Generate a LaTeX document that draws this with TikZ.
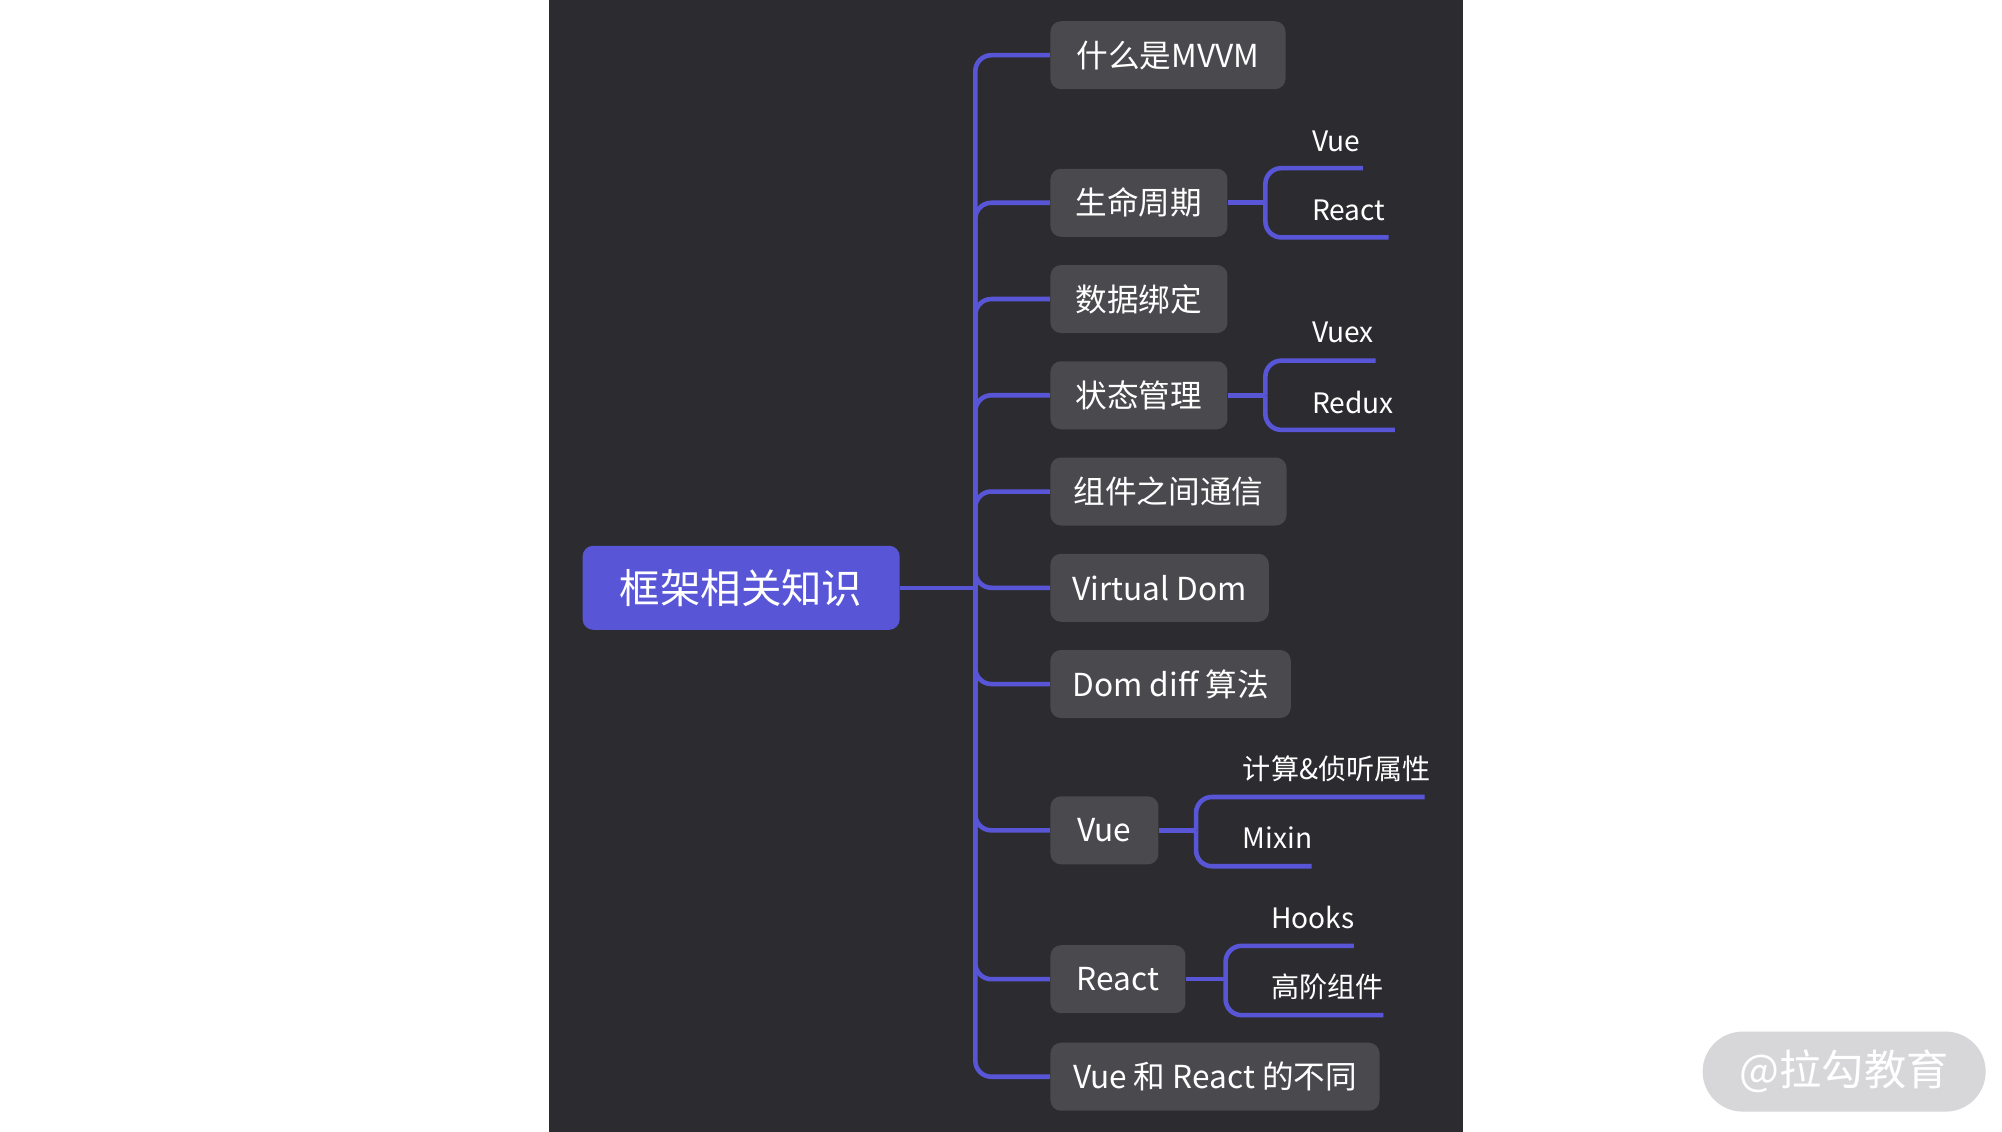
\documentclass[tikz,border=0pt]{standalone}
\usepackage{fontspec}
\setmainfont{Noto Sans CJK SC}
\usetikzlibrary{positioning}
\definecolor{panel}{RGB}{44,44,48}
\definecolor{topic}{RGB}{88,86,214}
\definecolor{boxgray}{RGB}{74,74,78}
\definecolor{mark}{RGB}{215,215,218}
\tikzset{
    root/.style={rectangle, rounded corners=3pt, minimum width=3.17cm, minimum height=0.84cm, fill=topic, text=white, font=\fontsize{11.5}{14}\selectfont},
    topicbox/.style={rectangle, rounded corners=3pt, anchor=west, minimum height=0.68cm, inner xsep=0.22cm, fill=boxgray, text=white, font=\fontsize{9}{11}\selectfont},
    leaf/.style={anchor=west, text=white, inner sep=0pt, font=\fontsize{8}{10}\selectfont},
    link/.style={draw=topic, line width=1.3pt, rounded corners=0.16cm}
}
\begin{document}
\begin{tikzpicture}[x=0.012833cm, y=-0.012833cm]
    % canvas and dark panel
    \useasboundingbox (0,0) rectangle (1560,882);
    \fill[white] (0,0) rectangle (1560,882);
    \fill[panel] (428,0) rectangle (1140,882);

    % root
    \node[root] (root) at (577.5,458) {框架相关知识};
    \coordinate (trunk) at (760,458);

    % topics
    \node[topicbox, minimum width=2.35cm] (mvvm) at (818,43) {什么是MVVM};
    \node[topicbox, minimum width=1.77cm] (life) at (818,158) {生命周期};
    \node[topicbox, minimum width=1.77cm] (bind) at (818,233) {数据绑定};
    \node[topicbox, minimum width=1.77cm] (state) at (818,308) {状态管理};
    \node[topicbox, minimum width=2.36cm] (comm) at (818,383) {组件之间通信};
    \node[topicbox, minimum width=2.12cm] (vdom) at (818,458) {Virtual Dom};
    \node[topicbox, minimum width=2.39cm] (diff) at (818,533) {Dom diff 算法};
    \node[topicbox, minimum width=1.08cm] (vue) at (818,647) {Vue};
    \node[topicbox, minimum width=1.35cm] (react) at (818,763) {React};
    \node[topicbox, minimum width=3.29cm] (diffvr) at (818,839) {Vue 和 React 的不同};

    % leaves
    \node[leaf] (lifevue) at (1022,110) {Vue};
    \node[leaf] (lifereact) at (1022,164) {React};
    \node[leaf] (vuex) at (1022,259) {Vuex};
    \node[leaf] (redux) at (1022,314) {Redux};
    \node[leaf] (watch) at (968,599) {计算\&侦听属性};
    \node[leaf] (mixin) at (968,653) {Mixin};
    \node[leaf] (hooks) at (990,715) {Hooks};
    \node[leaf] (hoc) at (990,769) {高阶组件};
    \coordinate (lifevueend) at (1062,131);
    \coordinate (lifereactend) at (1082,185);
    \coordinate (vuexend) at (1072,281);
    \coordinate (reduxend) at (1087,335);
    \coordinate (watchend) at (1110,621);
    \coordinate (mixinend) at (1022,675);
    \coordinate (hooksend) at (1055,737);
    \coordinate (hocend) at (1078,791);

    % trunk
    \draw[link] (root.east) -- (trunk);
    \foreach \t in {mvvm, life, bind, state, comm, vdom, diff, vue, react, diffvr}
        \draw[link] (trunk) |- (\t.west);

    % sub branches
    \draw[link] (life.east) -- (986,158) coordinate (lifej);
    \draw[link] (lifej) |- (lifevueend);
    \draw[link] (lifej) |- (lifereactend);
    \draw[link] (state.east) -- (986,308) coordinate (statej);
    \draw[link] (statej) |- (vuexend);
    \draw[link] (statej) |- (reduxend);
    \draw[link] (vue.east) -- (932,647) coordinate (vuej);
    \draw[link] (vuej) |- (watchend);
    \draw[link] (vuej) |- (mixinend);
    \draw[link] (react.east) -- (955,763) coordinate (reactj);
    \draw[link] (reactj) |- (hooksend);
    \draw[link] (reactj) |- (hocend);

    % watermark
    \node[rectangle, rounded corners=0.4cm, fill=mark, minimum width=2.83cm, minimum height=0.8cm, text=white, font=\fontsize{12}{14}\selectfont] (wm) at (1437,835) {@拉勾教育};
\end{tikzpicture}
\end{document}
